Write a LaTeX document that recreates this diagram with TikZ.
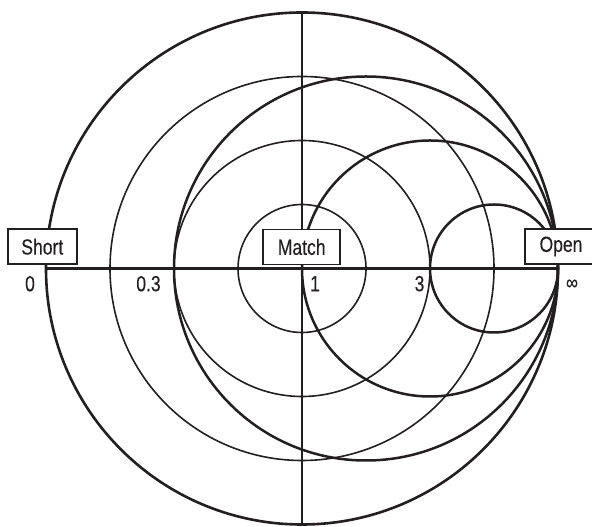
\documentclass[tikz,border=0pt]{standalone}
\usepackage{fontspec}
\setmainfont{Liberation Sans}[FakeStretch=0.8, FakeBold=0.25]
\definecolor{ink}{RGB}{35,31,32}
\tikzset{
  thinc/.style={draw=ink, line width=1.6bp},
  thickc/.style={draw=ink, line width=2.5bp},
  axis/.style={draw=ink, line width=2.6bp},
  vaxis/.style={draw=ink, line width=1.4bp},
  labelbox/.style={draw=ink, line width=1.6bp, fill=white, text=ink, inner sep=0pt,
    minimum height=35bp, font=\fontsize{22}{26}\selectfont},
  num/.style={text=ink, inner sep=0pt, font=\fontsize{22}{26}\selectfont}
}
\begin{document}
\begin{tikzpicture}[x=1bp,y=1bp]
\useasboundingbox (0,0) rectangle (592,527);
\clip (0,0) rectangle (592,527);
% centres
\coordinate (C) at (302,258.5);
\coordinate (R1) at (366,258.5);
\coordinate (R2) at (430,258.5);
\coordinate (R3) at (494,258.5);
\coordinate (W) at (46,258.5);
\coordinate (E) at (558,258.5);
\coordinate (N) at (302,514.5);
\coordinate (S) at (302,2.5);
% constant |Gamma| circles (thin)
\draw[thinc] (C) circle[radius=64bp];
\draw[thinc] (C) circle[radius=128bp];
\draw[thinc] (C) circle[radius=192bp];
% constant resistance circles (thick)
\draw[thickc] (R1) circle[radius=192bp];
\draw[thickc] (R2) circle[radius=128bp];
\draw[thickc] (R3) circle[radius=64bp];
% outer circle
\draw[thickc, line width=2.6bp] (C) circle[radius=256bp];
% axes
\draw[vaxis] (N) -- (S);
\draw[axis] (W) -- (E);
% boxes
\node[labelbox, minimum width=69bp] (short) at (42.3,280.3) {Short};
\node[labelbox, minimum width=77bp] (match) at (301.7,280) {Match};
\node[labelbox, minimum width=72bp] (open) at (561,280.5) {Open};
% numbers
\node[num] (n0) at (30,243.3) {0};
\node[num] (n03) at (148.5,243.3) {0.3};
\node[num] (n1) at (315,243.3) {1};
\node[num] (n3) at (419.5,243.3) {3};
\node[num, font=\fontsize{21}{24}\selectfont] (ninf) at (572,242.5) {∞};
\end{tikzpicture}
\end{document}
